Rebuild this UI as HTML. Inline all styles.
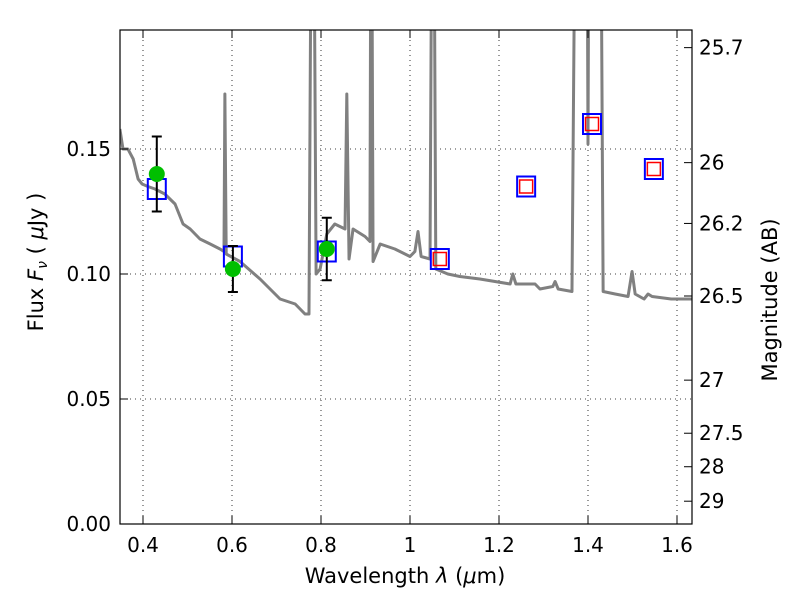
<!DOCTYPE html>
<html><head><meta charset="utf-8"><style>
body{margin:0;background:#fff;}
svg{font-family:"DejaVu Sans","Liberation Sans",sans-serif;}
</style></head><body>
<svg id="chart" width="800" height="600" xmlns="http://www.w3.org/2000/svg">
<defs><clipPath id="clip"><rect x="120" y="30" width="572" height="494"/></clipPath></defs>
<rect width="800" height="600" fill="#fff"/>
<g id="grid"></g>
<g id="spec" clip-path="url(#clip)"></g>
<g id="marks"></g>
<rect x="120" y="30" width="572" height="494" fill="none" stroke="#000" stroke-width="1.2"/>
<g id="axes"></g>
<text x="405" y="583" font-size="21" text-anchor="middle">Wavelength  <tspan font-style="italic">λ</tspan> (<tspan font-style="italic">μ</tspan>m)</text>
<text transform="translate(43,262) rotate(-90)" font-size="21" text-anchor="middle">Flux  <tspan font-style="italic">F</tspan><tspan font-style="italic" font-size="14" dy="4">ν</tspan><tspan dy="-4">  ( </tspan><tspan font-style="italic">μ</tspan>Jy )</text>
<text transform="translate(777,300) rotate(-90)" font-size="21" text-anchor="middle">Magnitude (AB)</text>
</svg>
<script>
const specLam=[0.348,0.355,0.366,0.378,0.389,0.398,0.411,0.427,0.449,0.472,0.490,0.506,0.528,0.551,0.573,0.582,0.584,0.587,0.618,0.663,0.708,0.742,0.764,0.773,0.778,0.784,0.789,0.798,0.813,0.831,0.854,0.858,0.863,0.872,0.899,0.910,0.912,0.914,0.917,0.933,0.966,1.000,1.011,1.018,1.025,1.045,1.049,1.054,1.058,1.085,1.112,1.157,1.225,1.231,1.238,1.281,1.292,1.321,1.326,1.333,1.364,1.371,1.398,1.400,1.402,1.429,1.434,1.461,1.490,1.499,1.506,1.526,1.535,1.544,1.587,1.634];
const specFlux=[0.158,0.150,0.150,0.146,0.138,0.136,0.135,0.134,0.132,0.128,0.120,0.118,0.114,0.112,0.110,0.109,0.172,0.108,0.105,0.098,0.090,0.088,0.084,0.084,0.25,0.25,0.100,0.102,0.116,0.120,0.118,0.172,0.106,0.118,0.115,0.113,0.25,0.25,0.105,0.112,0.110,0.107,0.109,0.117,0.107,0.106,0.25,0.25,0.102,0.100,0.099,0.098,0.096,0.100,0.096,0.096,0.094,0.095,0.097,0.094,0.093,0.25,0.25,0.152,0.25,0.25,0.093,0.092,0.091,0.101,0.092,0.090,0.092,0.091,0.090,0.090];
const obsLam=[0.431,0.602,0.813];
const obsFlux=[0.140,0.102,0.110];
const obsErr=[0.015,0.0092,0.0125];
const modelLam=[0.431,0.602,0.813,1.067,1.261,1.409,1.548];
const modelFlux=[0.134,0.107,0.109,0.106,0.135,0.160,0.142];
const irLam=[1.067,1.261,1.409,1.548];
const irFlux=[0.106,0.135,0.160,0.142];
const xTicks=[0.4,0.6,0.8,1.0,1.2,1.4,1.6];
const xTickLabels=["0.4","0.6","0.8","1","1.2","1.4","1.6"];
const yTicks=[0,0.05,0.10,0.15];
const yTickLabels=["0.00","0.05","0.10","0.15"];
const magTicks=[25.7,26,26.2,26.5,27,27.5,28,29];
const magTickLabels=["25.7","26","26.2","26.5","27","27.5","28","29"];

const X=l=>143+(l-0.4)*445;
const Y=f=>524-f*2500;
const ns="http://www.w3.org/2000/svg";
function mk(tag,attrs,parent,text){const e=document.createElementNS(ns,tag);for(const k in attrs)e.setAttribute(k,attrs[k]);if(text!==undefined)e.textContent=text;parent.appendChild(e);return e;}
const grid=document.getElementById('grid'),axes=document.getElementById('axes'),spec=document.getElementById('spec'),marks=document.getElementById('marks');
xTicks.forEach((t,i)=>{
 const gl=mk('line',{x1:X(t),x2:X(t),y1:30,y2:524,stroke:'#000','stroke-width':0.8,'stroke-dasharray':'1,4'},grid);
 
 mk('line',{x1:X(t),x2:X(t),y1:524,y2:516,stroke:'#000'},axes);
 mk('line',{x1:X(t),x2:X(t),y1:30,y2:38,stroke:'#000'},axes);
 const tl=mk('text',{x:X(t),y:552,'font-size':20,'text-anchor':'middle'},axes,xTickLabels[i]);
 
});
yTicks.forEach((t,i)=>{
 const gl=mk('line',{x1:120,x2:692,y1:Y(t),y2:Y(t),stroke:'#000','stroke-width':0.8,'stroke-dasharray':'1,4'},grid);
 
 mk('line',{x1:120,x2:128,y1:Y(t),y2:Y(t),stroke:'#000'},axes);
 const tl=mk('text',{x:111,y:Y(t)+7,'font-size':20,'text-anchor':'end'},axes,yTickLabels[i]);
 
});
magTicks.forEach((m,i)=>{
 const y=Y(Math.pow(10,(23.9-m)/2.5));
 mk('line',{x1:684,x2:692,y1:y,y2:y,stroke:'#000'},axes);
 const tl=mk('text',{x:699,y:y+7,'font-size':20},axes,magTickLabels[i]);
 
});
const pl=mk('polyline',{points:specLam.map((l,i)=>X(l)+','+Y(specFlux[i])).join(' '),fill:'none',stroke:'#808080','stroke-width':3,'stroke-linejoin':'round'},spec);

modelLam.forEach((l,i)=>{
 const r=mk('rect',{x:X(l)-9,y:Y(modelFlux[i])-10,width:18,height:20,fill:'none',stroke:'#0000ff','stroke-width':2},marks);
 
});
irLam.forEach((l,i)=>{
 const r=mk('rect',{x:X(l)-6.5,y:Y(irFlux[i])-6.5,width:13,height:13,fill:'none',stroke:'#ff0000','stroke-width':1.5},marks);
 
});
obsLam.forEach((l,i)=>{
 const x=X(l),y1=Y(obsFlux[i]+obsErr[i]),y2=Y(obsFlux[i]-obsErr[i]);
 const g=mk('g',{},marks);
 
 mk('line',{x1:x,x2:x,y1:y1,y2:y2,stroke:'#000','stroke-width':2},g);
 mk('line',{x1:x-5,x2:x+5,y1:y1,y2:y1,stroke:'#000','stroke-width':2},g);
 mk('line',{x1:x-5,x2:x+5,y1:y2,y2:y2,stroke:'#000','stroke-width':2},g);
 mk('circle',{cx:x,cy:Y(obsFlux[i]),r:8,fill:'#00bf00'},g);
});
</script>
</body></html>
